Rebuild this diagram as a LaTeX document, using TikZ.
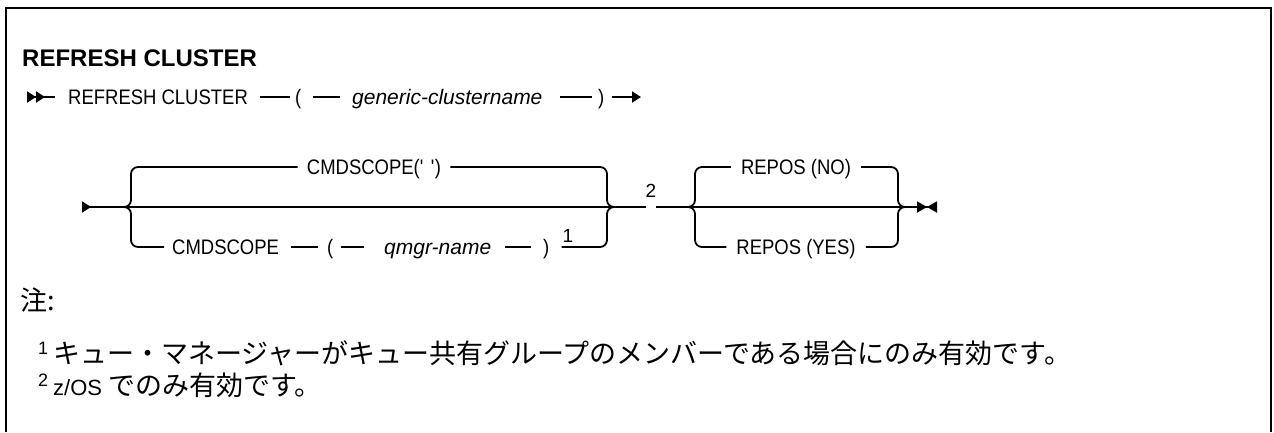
\documentclass[tikz,border=0pt]{standalone}
\usepackage{fontspec}
\setmainfont{Liberation Sans}
\newfontfamily\railfont[FakeStretch=0.88]{Liberation Sans}
\newfontfamily\cjk{Noto Sans CJK JP}
\usetikzlibrary{arrows.meta,positioning,calc}

\newcommand{\fnmark}[1]{{\rmfamily\fontsize{18}{18}\selectfont\raisebox{9pt}{#1}}\hspace{5pt}}

\begin{document}
\begin{tikzpicture}[x=1pt,y=-1pt,>=Latex,
  rail/.style={line width=1.8pt},
  brace/.style={rail,rounded corners=7pt},
  kw/.style={inner sep=0pt,text height=15pt,text depth=0pt,font=\railfont\fontsize{21}{21}\selectfont},
  var/.style={kw,font=\itshape\fontsize{21}{21}\selectfont},
  fnum/.style={inner sep=0pt,font=\fontsize{19}{19}\selectfont},
  title/.style={anchor=west,inner sep=0pt,font=\bfseries\fontsize{24}{24}\selectfont},
  note/.style={anchor=west,inner sep=0pt,font=\cjk\fontsize{27}{27}\selectfont}]
  \useasboundingbox (0,0) rectangle (1274,432);
  \draw[line width=2pt] (6,432) -- (6,8) -- (1271,8) -- (1271,432);

  \node[title] (ttl) at (22,58) {REFRESH CLUSTER};

  % first line
  \coordinate (r1s) at (27,97);
  \node[kw,anchor=west] (cmd) at (68,97) {REFRESH CLUSTER};
  \node[kw,anchor=west] (lp1) at (295,97) {(};
  \node[var,anchor=west] (gcn) at (352,97) {generic-clustername};
  \node[kw,anchor=west] (rp1) at (598,97) {)};
  \coordinate (r1e) at (641,97);
  \draw[rail,{Triangle[reversed,length=9pt,width=11pt]Triangle[reversed,length=9pt,width=11pt]}-,shorten >=13pt] (r1s) -- (cmd);
  \draw[rail,shorten <=12pt,shorten >=5pt] (cmd) -- (lp1);
  \draw[rail,shorten <=11pt,shorten >=12pt] (lp1) -- (gcn);
  \draw[rail,shorten <=17pt,shorten >=6pt] (gcn) -- (rp1);
  \draw[rail,-{Triangle[length=9pt,width=11pt]},shorten <=7pt] (rp1) -- (r1e);

  % second line
  \coordinate (r2s) at (82,207);
  \coordinate (j1) at (119,207);
  \coordinate (g1l) at (131,207);
  \coordinate (g1r) at (607,207);
  \coordinate (j2) at (619,207);
  \node[fnum,anchor=south] (fn2) at (651,198) {2};
  \coordinate (j3) at (683,207);
  \coordinate (g2l) at (695,207);
  \coordinate (g2r) at (898,207);
  \coordinate (j4) at (910,207);
  \coordinate (r2e) at (937,207);
  \draw[rail,{Triangle[reversed,length=9pt,width=11pt]}-] (r2s) -- (fn2.west |- r2s);
  \draw[rail,-{Triangle[length=10pt,width=11pt]Triangle[reversed,length=10pt,width=11pt]}] (fn2.east |- r2s) -- (r2e);

  % CMDSCOPE
  \node[kw] (dflt) at (374,167) {CMDSCOPE(\textquotesingle\,\,\textquotesingle)};
  \draw[brace,shorten >=9pt] (j1) -| (g1l |- dflt) -- (dflt.west);
  \draw[brace,shorten <=9pt] (dflt.east) -- (g1r |- dflt) |- (j2);
  \node[kw,anchor=west] (sc) at (172,247) {CMDSCOPE};
  \node[kw,anchor=west] (lp2) at (327,247) {(};
  \node[var,anchor=west] (qmn) at (384,247) {qmgr-name};
  \node[kw,anchor=west] (rp2) at (543,247) {)};
  \node[fnum,anchor=south] (fn1) at (568,243) {1};
  \draw[brace,shorten >=8pt] (j1) -| (g1l |- sc) -- (sc.west);
  \draw[rail,shorten <=12pt,shorten >=9pt] (sc) -- (lp2);
  \draw[rail,shorten <=7pt,shorten >=20pt] (lp2) -- (qmn);
  \draw[rail,shorten <=14pt,shorten >=12pt] (qmn) -- (rp2);
  \draw[brace,shorten <=12pt] (rp2.east) -- (g1r |- rp2) |- (j2);

  % REPOS
  \node[kw] (rno) at (796,167) {REPOS (NO)};
  \node[kw] (ryes) at (796,247) {REPOS (YES)};
  \draw[brace,shorten >=10pt] (j3) -| (g2l |- rno) -- (rno.west);
  \draw[brace,shorten <=10pt] (rno.east) -- (g2r |- rno) |- (j4);
  \draw[brace,shorten >=10pt] (j3) -| (g2l |- ryes) -- (ryes.west);
  \draw[brace,shorten <=10pt] (ryes.east) -- (g2r |- ryes) |- (j4);

  % notes
  \node[note] (chu) at (20,300) {注:};
  \node[note] (n1) at (38,353) {\fnmark{1}キュー・マネージャーがキュー共有グループのメンバーである場合にのみ有効です。};
  \node[note] (n2) at (38,385) {\fnmark{2}{\rmfamily\fontsize{22}{22}\selectfont z/OS} でのみ有効です。};
\end{tikzpicture}
\end{document}
